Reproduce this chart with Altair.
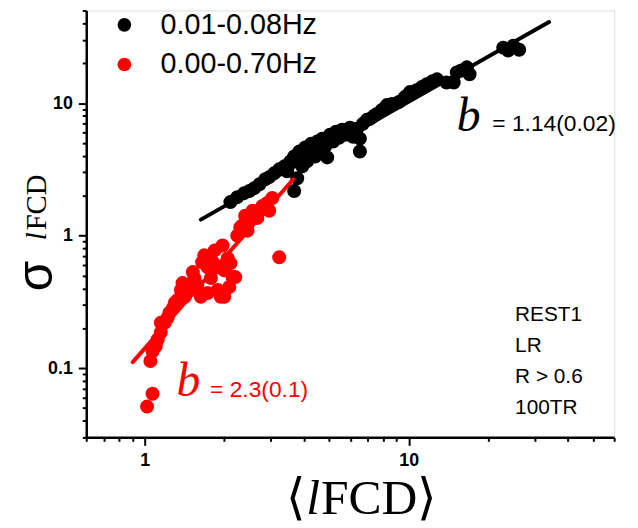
import altair as alt
import pandas as pd

# ---- data ----
series = ["0.01-0.08Hz", "0.00-0.70Hz"]
colors = ["#000000", "#ff0000"]

black_x = [2.11, 2.24, 2.38, 2.49, 2.60, 2.72, 2.86, 2.96, 3.09, 3.23, 3.38, 3.46, 3.56, 3.68,
           3.78, 3.68, 3.85, 3.95, 4.05, 4.16, 4.27, 4.38, 4.50, 4.57, 4.70, 4.82, 4.91, 5.03,
           5.17, 5.30, 5.44, 5.59, 5.73, 5.84, 5.99, 6.15, 6.37, 6.53, 6.53, 6.70, 6.94, 7.13,
           7.38, 7.57, 7.91, 8.26, 8.63, 9.17, 9.66, 10.1, 10.7, 11.2, 11.7, 12.3, 12.8, 13.9,
           14.8, 15.2, 15.8, 16.6, 17.0, 22.8, 23.8, 24.9, 26.2, 4.12, 4.42, 3.95]
black_y = [1.79, 1.95, 2.09, 2.17, 2.28, 2.44, 2.66, 2.76, 2.95, 3.16, 3.33, 3.06, 3.63, 3.95,
           2.71, 2.17, 4.31, 3.76, 4.62, 4.16, 4.94, 4.69, 5.12, 4.31, 5.39, 4.69, 3.89, 5.77,
           5.12, 6.08, 5.48, 6.29, 5.77, 5.97, 6.51, 5.57, 6.40, 5.39, 4.31, 6.97, 7.47, 7.60,
           8.00, 8.28, 8.87, 9.66, 9.83, 10.2, 11.1, 12.1, 12.5, 13.2, 13.9, 14.6, 15.1, 14.3,
           14.3, 17.0, 17.6, 18.6, 16.5, 26.2, 24.9, 27.1, 25.3, 3.63, 3.95, 3.33]

red_x = [1.02, 1.07, 1.05, 1.07, 1.10, 1.12, 1.15, 1.15, 1.19, 1.22, 1.24, 1.28, 1.30, 1.33,
         1.37, 1.39, 1.42, 1.45, 1.48, 1.52, 1.54, 1.58, 1.63, 1.65, 1.68, 1.73, 1.73, 1.78,
         1.81, 1.84, 1.89, 1.89, 1.94, 1.97, 2.00, 2.00, 2.06, 2.09, 2.11, 2.15, 2.20, 2.24,
         2.30, 2.34, 2.40, 2.45, 2.49, 2.56, 2.67, 2.67, 2.79, 2.91, 2.96, 3.04, 3.23]
red_y = [0.0512, 0.0640, 0.113, 0.134, 0.146, 0.165, 0.186, 0.220, 0.220, 0.240, 0.262, 0.285,
         0.311, 0.327, 0.389, 0.438, 0.345, 0.389, 0.424, 0.530, 0.478, 0.424, 0.345, 0.629,
         0.709, 0.577, 0.369, 0.478, 0.629, 0.773, 0.577, 0.389, 0.345, 0.842, 0.548, 0.345,
         0.674, 0.409, 0.618, 0.486, 0.486, 1.00, 1.15, 1.19, 1.41, 1.09, 1.34, 1.54, 1.46,
         1.36, 1.67, 1.76, 1.54, 1.92, 0.685]

fit_black_x = [1.63, 34.0]
fit_black_y = [1.32, 40.9]
fit_red_x = [0.90, 3.65]
fit_red_y = [0.111, 2.66]

x_ticks = [0.6, 0.7, 0.8, 0.9, 1, 2, 3, 4, 5, 6, 7, 8, 9, 10, 20, 30, 40, 50, 60]
y_ticks = [0.03, 0.04, 0.05, 0.06, 0.07, 0.08, 0.09, 0.1, 0.2, 0.3, 0.4, 0.5, 0.6, 0.7,
           0.8, 0.9, 1, 2, 3, 4, 5, 6, 7, 8, 9, 10, 20, 30, 40, 50]
x_major = [1, 10]
y_major = [0.1, 1, 10]

fit_black_label = "= 1.14(0.02)"
fit_red_label = "= 2.3(0.1)"
info_text = "REST1\nLR\nR > 0.6\n100TR"

# ---- tables ----
pts = pd.DataFrame({
    "x": black_x + red_x,
    "y": black_y + red_y,
    "series": [series[0]] * len(black_x) + [series[1]] * len(red_x),
})
fits = pd.DataFrame({
    "x": fit_black_x + fit_red_x,
    "y": fit_black_y + fit_red_y,
    "series": [series[0]] * 2 + [series[1]] * 2,
})

W, H = 533, 431

def major_test(vals):
    return "indexof([" + ",".join(str(v) for v in vals) + "], datum.value) >= 0"

def make_axis(vals, majors):
    t = major_test(majors)
    return alt.Axis(
        values=vals,
        labelExpr=t + " ? format(datum.value, '~g') : ''",
        tickSize={"condition": {"test": t, "value": 8}, "value": 4},
        title=None, grid=False,
        domainColor="black", domainWidth=2.5,
        tickColor="black", tickWidth=2,
        labelFont="Liberation Sans", labelFontWeight="bold", labelFontSize=18,
        labelColor="black", labelPadding=6, labelFlush=False, labelOverlap=False,
    )

xscale = alt.Scale(type="log", domain=[0.6, 60], nice=False)
yscale = alt.Scale(type="log", domain=[0.03, 50], nice=False)
cscale = alt.Scale(domain=series, range=colors)
xaxis = make_axis(x_ticks, x_major)
yaxis = make_axis(y_ticks, y_major)

points = alt.Chart(pts).mark_circle(size=200, opacity=1).encode(
    x=alt.X("x:Q", scale=xscale, axis=xaxis),
    y=alt.Y("y:Q", scale=yscale, axis=yaxis),
    color=alt.Color("series:N", scale=cscale, legend=alt.Legend(
        title=None, orient="none", legendX=24, legendY=0,
        symbolType="circle", symbolSize=190, symbolStrokeWidth=0,
        labelFont="Liberation Sans", labelFontSize=29, labelColor="black",
        labelOffset=22, rowPadding=10, padding=0, labelLimit=400,
    )),
)

lines = alt.Chart(fits).mark_line(strokeWidth=4, strokeCap="round").encode(
    x=alt.X("x:Q", scale=xscale, axis=xaxis),
    y=alt.Y("y:Q", scale=yscale, axis=yaxis),
    color=alt.Color("series:N", scale=cscale, legend=None),
)

one = alt.Data(values=[{}])

def txt(text, x, y, **kw):
    return alt.Chart(one).mark_text(text=text, **kw).encode(x=alt.value(x), y=alt.value(y))

serif = "Liberation Serif"
sans = "Liberation Sans"

annots = [
    txt("b", 386, 122, font=serif, fontStyle="italic", fontSize=48, align="center", baseline="alphabetic", color="black"),
    txt(fit_black_label, 410, 122, font=sans, fontSize=23, align="left", baseline="alphabetic", color="black"),
    txt("b", 103, 389, font=serif, fontStyle="italic", fontSize=48, align="center", baseline="alphabetic", color="#ff0000"),
    txt(fit_red_label, 125, 390, font=sans, fontSize=23, align="left", baseline="alphabetic", color="#ff0000"),
    txt(info_text, 433, 314, font=sans, fontSize=21, align="left", baseline="alphabetic", color="black",
        lineBreak="\n", lineHeight=31),
    # y title: sigma_{lFCD}
    txt("σ", -50, 268, font=sans, fontSize=50, align="center", baseline="middle", angle=270, color="black"),
    txt("l", -50, 228, font=serif, fontStyle="italic", fontSize=29, align="center", baseline="middle", angle=270, color="black"),
    txt("FCD", -50, 222, font=serif, fontSize=29, align="left", baseline="middle", angle=270, color="black"),
    # x title: <lFCD>
    txt("⟨", 212, 508, font=serif, fontSize=50, align="center", baseline="alphabetic", color="black"),
    txt("l", 229, 508, font=serif, fontStyle="italic", fontSize=50, align="center", baseline="alphabetic", color="black"),
    txt("FCD⟩", 237, 508, font=serif, fontSize=50, align="left", baseline="alphabetic", color="black"),
]

chart = alt.layer(points, lines, *annots).properties(
    width=W, height=H,
    autosize=alt.AutoSizeParams(type="none"),
    padding={"left": 79, "top": 0, "right": 16, "bottom": 88},
).configure_view(stroke=None).configure(background="white")

chart.save("out.html", embed_options={"renderer": "svg", "actions": False})
